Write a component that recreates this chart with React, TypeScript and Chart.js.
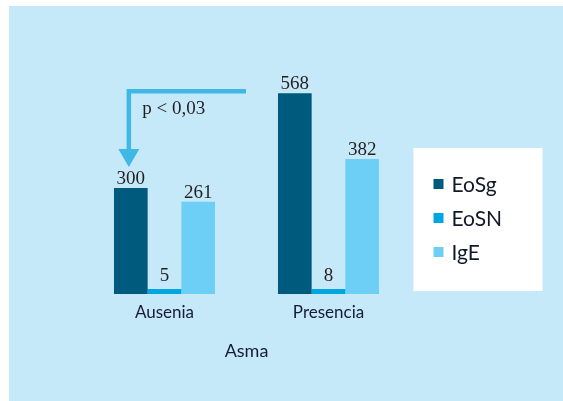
import React, { useEffect, useRef } from "react";
import { Chart, registerables } from "chart.js";

Chart.register(...registerables);

const categories = ["Ausenia", "Presencia"];
const seriesNames = ["EoSg", "EoSN", "IgE"];
const eosgValues = [300, 568];
const eosnValues = [5, 8];
const igeValues = [261, 382];
const axisTitle = "Asma";
const annotationText = "p < 0,03";

const COLORS = ["#005a7e", "#00a6e1", "#6dcff6"];
const ARROW = "#3fb8e5";
const TEXT_DARK = "#161b38";
const NUM = "#231f20";
const SANS = "Lato, 'Open Sans', sans-serif";
const SERIF = "'Liberation Serif', 'DejaVu Serif', serif";

const overlayPlugin = {
  id: "overlay",
  afterDatasetsDraw(chart: any) {
    const ctx = chart.ctx;
    const area = chart.chartArea;
    const xScale = chart.scales.x;
    ctx.save();

    // value labels
    chart.data.datasets.forEach((ds: any, di: number) => {
      const meta = chart.getDatasetMeta(di);
      meta.data.forEach((bar: any, i: number) => {
        const off = di === 1 ? 8 : 4;
        ctx.font = `19px ${SERIF}`;
        ctx.fillStyle = NUM;
        ctx.textAlign = "center";
        ctx.textBaseline = "alphabetic";
        ctx.fillText(String(ds.data[i]), bar.x, bar.y - off);
      });
    });

    // category labels
    ctx.font = `17px ${SANS}`;
    ctx.fillStyle = TEXT_DARK;
    ctx.textAlign = "center";
    ctx.textBaseline = "middle";
    categories.forEach((c, i) => {
      ctx.fillText(c, xScale.getPixelForValue(i), area.bottom + 19);
    });
    ctx.font = `18px ${SANS}`;
    ctx.fillText(axisTitle, (area.left + area.right) / 2, area.bottom + 57);

    // arrow annotation
    const m0 = chart.getDatasetMeta(0);
    const a = m0.data[0];
    const b = m0.data[1];
    const tipX = a.x - 2;
    const tipY = a.y - 21;
    const lineY = b.y - 2;
    const rightX = b.x - b.width / 2 - 32;
    ctx.strokeStyle = ARROW;
    ctx.lineWidth = 4.5;
    ctx.lineCap = "butt";
    ctx.lineJoin = "miter";
    ctx.beginPath();
    ctx.moveTo(rightX, lineY);
    ctx.lineTo(tipX, lineY);
    ctx.lineTo(tipX, tipY - 17);
    ctx.stroke();
    ctx.fillStyle = ARROW;
    ctx.beginPath();
    ctx.moveTo(tipX - 10.5, tipY - 18);
    ctx.lineTo(tipX + 10.5, tipY - 18);
    ctx.lineTo(tipX, tipY);
    ctx.closePath();
    ctx.fill();

    ctx.font = `19px ${SERIF}`;
    ctx.fillStyle = NUM;
    ctx.textAlign = "left";
    ctx.textBaseline = "alphabetic";
    ctx.fillText(annotationText, tipX + 13.5, lineY + 23);

    // legend box
    const lx = area.right + 3;
    const ly = 148;
    ctx.fillStyle = "#ffffff";
    ctx.fillRect(lx, ly, 129, 143);
    seriesNames.forEach((name, i) => {
      const cy = 184 + i * 34;
      ctx.fillStyle = COLORS[i];
      ctx.fillRect(lx + 20, cy - 5, 10, 10);
      ctx.font = `21px ${SANS}`;
      ctx.fillStyle = "#111827";
      ctx.textAlign = "left";
      ctx.textBaseline = "middle";
      ctx.fillText(name, lx + 38, cy + 1);
    });
    ctx.restore();
  },
};

export default function App() {
  const ref = useRef<HTMLCanvasElement | null>(null);

  useEffect(() => {
    document.body.style.margin = "0";
    const canvas = ref.current;
    if (!canvas) return;
    const chart = new Chart(canvas, {
      type: "bar",
      data: {
        labels: categories,
        datasets: [
          { label: seriesNames[0], data: eosgValues, backgroundColor: COLORS[0] },
          { label: seriesNames[1], data: eosnValues, backgroundColor: COLORS[1], minBarLength: 5 },
          { label: seriesNames[2], data: igeValues, backgroundColor: COLORS[2] },
        ],
      },
      options: {
        responsive: false,
        animation: false,
        devicePixelRatio: 1,
        layout: { padding: { left: 82.5, right: 152.5, top: 82, bottom: 107 } },
        datasets: { bar: { categoryPercentage: 0.616, barPercentage: 1, borderWidth: 0 } },
        scales: {
          x: { display: false },
          y: { display: false, min: 0, max: 600 },
        },
        plugins: { legend: { display: false }, tooltip: { enabled: false } },
      },
      plugins: [overlayPlugin],
    });
    return () => chart.destroy();
  }, []);

  return (
    <div style={{ position: "relative", width: 563, height: 401, background: "#ffffff", overflow: "hidden" }}>
      <div style={{ position: "absolute", left: 9, top: 6, right: 0, bottom: 0, background: "#c6e9f9" }} />
      <canvas ref={ref} width={563} height={401} style={{ position: "absolute", left: 0, top: 0, width: 563, height: 401 }} />
    </div>
  );
}
